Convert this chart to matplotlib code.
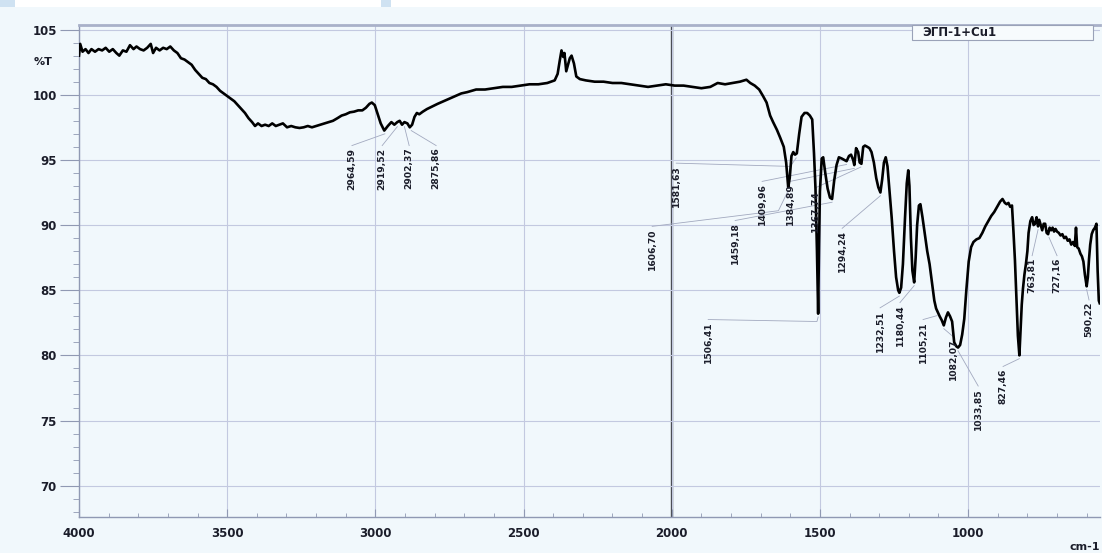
import matplotlib
matplotlib.use("Agg")
import matplotlib.pyplot as plt
from matplotlib import font_manager
from matplotlib.patches import Rectangle
from matplotlib.ticker import MultipleLocator

# ---------------- data ----------------
wavenumber = [4000, 3996, 3988, 3978, 3968, 3958, 3946, 3934, 3922, 3910, 3898, 3886, 3874, 3864,
              3852, 3840, 3828, 3816, 3806, 3794, 3782, 3770, 3758, 3750, 3740, 3728, 3716, 3704,
              3692, 3680, 3668, 3656, 3644, 3632, 3620, 3608, 3596, 3584, 3572, 3560, 3548, 3536,
              3524, 3512, 3500, 3488, 3476, 3464, 3452, 3440, 3428, 3416, 3406, 3396, 3384, 3372,
              3360, 3348, 3336, 3324, 3312, 3298, 3284, 3270, 3256, 3242, 3228, 3214, 3200, 3186,
              3172, 3158, 3143, 3128, 3114, 3100, 3086, 3072, 3058, 3044, 3032, 3020, 3012, 3002,
              2992, 2982, 2970, 2958, 2946, 2936, 2926, 2918, 2910, 2902, 2892, 2884, 2876, 2868,
              2860, 2852, 2840, 2826, 2808, 2790, 2770, 2750, 2730, 2710, 2690, 2660, 2630, 2600,
              2570, 2540, 2510, 2480, 2450, 2420, 2395, 2385, 2378, 2372, 2366, 2362, 2356, 2350,
              2344, 2338, 2330, 2322, 2310, 2290, 2260, 2230, 2200, 2170, 2140, 2110, 2080, 2050,
              2020, 1990, 1960, 1930, 1900, 1870, 1845, 1820, 1795, 1770, 1748, 1735, 1720, 1705,
              1692, 1680, 1668, 1658, 1645, 1634, 1622, 1614, 1607, 1602, 1596, 1590, 1584, 1578,
              1570, 1562, 1552, 1543, 1534, 1526, 1520, 1515, 1510, 1506, 1503, 1500, 1494, 1489,
              1482, 1474, 1466, 1459, 1452, 1444, 1436, 1426, 1418, 1410, 1402, 1395, 1388, 1384,
              1378, 1371, 1366, 1360, 1354, 1348, 1340, 1333, 1326, 1318, 1310, 1303, 1296, 1290,
              1284, 1278, 1272, 1265, 1258, 1250, 1243, 1236, 1232, 1226, 1220, 1213, 1207, 1202,
              1198, 1193, 1188, 1182, 1177, 1172, 1166, 1161, 1154, 1146, 1138, 1130, 1122, 1114,
              1108, 1102, 1096, 1089, 1082, 1075, 1068, 1061, 1054, 1047, 1040, 1034, 1027, 1020,
              1013, 1006, 998, 990, 982, 972, 962, 952, 942, 932, 922, 912, 902, 892, 884, 876,
              870, 864, 858, 852, 847, 842, 837, 832, 827, 823, 819, 815, 810, 805, 800, 796,
              790, 784, 779, 774, 769, 764, 760, 755, 750, 745, 740, 735, 730, 725, 720, 715,
              710, 705, 700, 694, 688, 682, 676, 670, 664, 658, 652, 646, 640, 636, 632, 627,
              621, 616, 611, 606, 600, 596, 592, 588, 583, 578, 572, 567, 563, 559, 556]

transmittance = [103.0, 103.9, 103.3, 103.5, 103.2, 103.5, 103.3, 103.5, 103.4, 103.6, 103.3, 103.5, 103.2, 103.0,
                 103.4, 103.3, 103.8, 103.5, 103.7, 103.5, 103.4, 103.6, 103.9, 103.2, 103.6, 103.4, 103.6, 103.5,
                 103.7, 103.4, 103.2, 102.8, 102.7, 102.5, 102.3, 101.9, 101.6, 101.3, 101.2, 100.9, 100.8, 100.6,
                 100.3, 100.1, 99.9, 99.7, 99.5, 99.2, 98.9, 98.6, 98.2, 97.9, 97.6, 97.8, 97.6, 97.7,
                 97.6, 97.8, 97.6, 97.7, 97.8, 97.5, 97.6, 97.5, 97.45, 97.5, 97.6, 97.5, 97.6, 97.7,
                 97.8, 97.9, 98.0, 98.2, 98.4, 98.5, 98.65, 98.7, 98.8, 98.8, 99.0, 99.3, 99.4, 99.2,
                 98.5, 97.8, 97.25, 97.6, 97.9, 97.7, 97.9, 98.0, 97.7, 97.9, 97.8, 97.5, 97.7, 98.3,
                 98.6, 98.5, 98.7, 98.9, 99.1, 99.3, 99.5, 99.7, 99.9, 100.1, 100.2, 100.4, 100.4, 100.5,
                 100.6, 100.6, 100.7, 100.8, 100.8, 100.9, 101.1, 101.6, 102.6, 103.4, 102.9, 103.2, 101.8, 102.3,
                 102.8, 103.0, 102.4, 101.4, 101.2, 101.1, 101.0, 101.0, 100.9, 100.9, 100.8, 100.7, 100.6, 100.7,
                 100.8, 100.7, 100.7, 100.6, 100.5, 100.6, 100.9, 100.8, 100.9, 101.0, 101.15, 100.9, 100.7, 100.4,
                 99.9, 99.4, 98.4, 97.9, 97.3, 96.7, 96.0, 94.8, 92.9, 93.6, 95.3, 95.6, 95.4, 95.5,
                 97.0, 98.3, 98.6, 98.6, 98.4, 98.1, 95.5, 92.8, 88.0, 83.2, 88.5, 92.6, 95.1, 95.2,
                 94.0, 92.8, 92.1, 92.0, 93.4, 94.6, 95.2, 95.1, 95.0, 94.9, 95.3, 95.4, 95.0, 94.6,
                 95.9, 95.6, 94.8, 94.7, 96.0, 96.1, 96.0, 95.9, 95.6, 94.8, 93.6, 92.9, 92.5, 93.5,
                 94.8, 95.2, 94.5, 92.5, 90.6, 88.0, 86.0, 85.0, 84.8, 85.2, 87.0, 90.5, 93.2, 94.2,
                 93.0, 89.0, 86.5, 85.6, 87.5, 90.0, 91.5, 91.6, 90.6, 89.3, 88.0, 87.0, 85.6, 84.2,
                 83.6, 83.3, 83.0, 82.7, 82.3, 82.9, 83.3, 83.0, 82.6, 81.0, 80.7, 80.6, 80.8, 81.6,
                 82.8, 85.0, 87.2, 88.3, 88.7, 88.9, 89.0, 89.4, 89.9, 90.3, 90.7, 91.0, 91.4, 91.8, 92.0, 91.7,
                 91.6, 91.7, 91.4, 91.5, 89.5, 87.3, 84.5, 81.5, 80.0, 82.0, 83.9, 85.1, 86.2, 87.0, 88.0, 89.4,
                 90.3, 90.6, 90.0, 90.1, 90.6, 89.9, 90.4, 90.0, 89.6, 90.1, 90.1, 89.4, 89.3, 89.8, 89.6, 89.8,
                 89.5, 89.7, 89.5, 89.4, 89.2, 89.3, 89.0, 89.1, 88.8, 88.9, 88.5, 88.7, 88.4, 89.8, 88.3, 88.2,
                 87.8, 87.6, 87.2, 86.2, 85.3, 86.0, 87.4, 88.5, 89.3, 89.6, 89.8, 90.1, 86.5, 84.2, 84.0]

peak_labels = ["2964,59", "2919,52", "2902,37", "2875,86", "1606,70", "1581,63", "1506,41",
               "1459,18", "1409,96", "1384,89", "1367,74", "1294,24", "1232,51", "1180,44",
               "1105,21", "1082,07", "1033,85", "827,46", "763,81", "727,16", "590,22"]
peak_wn = [2968, 2926, 2902, 2879, 1607, 1580, 1506, 1459, 1410, 1384, 1362, 1296, 1232, 1182,
           1105, 1082, 1034, 827, 764, 727, 600]
peak_t = [97.25, 97.8, 97.8, 97.5, 92.9, 95.4, 83.2, 92.0, 94.9, 94.6, 94.7, 92.5, 84.8, 85.6,
          83.3, 82.3, 80.6, 80.0, 89.9, 89.3, 85.3]

# layout of the rotated labels (x in cm-1, y = top of label in %T)
label_x = [3079, 2977, 2886, 2795, 2066, 1985, 1877, 1786, 1695, 1601, 1516, 1425, 1297, 1230,
           1152, 1051, 966, 882, 784, 700, 592]
label_top = [95.95, 95.95, 95.95, 95.95, 89.75, 94.6, 82.6, 90.2, 93.2, 93.2, 92.7, 89.6, 83.5, 83.9,
             82.6, 81.3, 77.5, 79.0, 87.5, 87.5, 84.1]
# optional elbow point of each leader line (None = straight)
leader_elbow = [None, None, None, None, (1640, 91.1), (1600, 94.5), (1510, 82.6),
                None, None, None, None, None, None, None,
                None, None, None, None, None, None, None]

x_ticks = [4000, 3500, 3000, 2500, 2000, 1500, 1000]
y_ticks = [70, 75, 80, 85, 90, 95, 100, 105]
legend_text = "ЭГП-1+Cu1"

# ---------------- style ----------------
names = {f.name for f in font_manager.fontManager.ttflist}
if "Liberation Sans Narrow" in names:
    narrow = ["Liberation Sans Narrow", "DejaVu Sans"]
    narrow_size = 8.0
elif "DejaVu Sans Condensed" in names:
    narrow = ["DejaVu Sans Condensed", "DejaVu Sans"]
    narrow_size = 7.0
else:
    narrow = ["DejaVu Sans"]
    narrow_size = 6.6

BG = "#f1f8fc"
GRID = "#c3c9e0"
TXT = "#1b1d2a"

W, H = 1102, 553
fig = plt.figure(figsize=(W / 100, H / 100), dpi=100, facecolor=BG)

# top strip (cropped window header)
fig.patches.append(Rectangle((0, 1 - 7 / H), 1, 7 / H, transform=fig.transFigure,
                             facecolor="white", edgecolor="none", zorder=0))
fig.patches.append(Rectangle((0, 1 - 7 / H), 15 / W, 7 / H, transform=fig.transFigure,
                             facecolor="#cfe2f2", edgecolor="none", zorder=0))
fig.patches.append(Rectangle((381 / W, 1 - 7 / H), 10 / W, 7 / H, transform=fig.transFigure,
                             facecolor="#cfe2f2", edgecolor="none", zorder=0))

ax = fig.add_axes([79 / W, (H - 517) / H, (1100 - 79) / W, (517 - 25) / H])
ax.set_facecolor(BG)
ax.set_xlim(4000, 555)
ax.set_ylim(67.6, 105.35)

ax.set_xticks(x_ticks)
ax.set_yticks(y_ticks)
ax.xaxis.set_minor_locator(MultipleLocator(100))
ax.yaxis.set_minor_locator(MultipleLocator(1))
ax.grid(True, which="major", color=GRID, lw=0.8, zorder=0)
ax.axvline(2000, color="#45474f", lw=1.7, zorder=1)

for s in ("left", "bottom"):
    ax.spines[s].set_color("#9099b3")
    ax.spines[s].set_linewidth(1.0)
ax.spines["top"].set_color("#a9b1c9")
ax.spines["top"].set_linewidth(2.0)
ax.spines["right"].set_visible(False)

ax.tick_params(axis="x", which="major", direction="in", length=6, color="#9099b3",
               labelsize=8.5, labelcolor=TXT, pad=7)
ax.tick_params(axis="x", which="minor", direction="in", length=3, color="#9099b3")
ax.tick_params(axis="y", which="major", direction="out", length=14, color="#9099b3",
               labelsize=8.5, labelcolor=TXT, pad=2)
ax.tick_params(axis="y", which="minor", direction="out", length=4, color="#9099b3")
for lab in ax.get_xticklabels() + ax.get_yticklabels():
    lab.set_fontweight("bold")

ax.plot(wavenumber, transmittance, color="black", lw=1.9, zorder=4,
        solid_joinstyle="round")

for txt, px, py, lx, ly, elb in zip(peak_labels, peak_wn, peak_t, label_x, label_top, leader_elbow):
    xs = [lx]
    ys = [ly + 0.15]
    if elb is not None:
        xs.append(elb[0])
        ys.append(elb[1])
    xs.append(px)
    ys.append(py - 0.25)
    ax.plot(xs, ys, color="#a2a9bf", lw=0.6, zorder=3)
    ax.text(lx, ly, txt, rotation=90, ha="center", va="top", fontsize=narrow_size,
            family=narrow, fontweight="bold", color=TXT, zorder=5)

fig.text(43 / W, 1 - 62 / H, "%T", ha="center", va="center", fontsize=8,
         fontweight="bold", color=TXT)
fig.text(1085 / W, 1 - 547 / H, "cm-1", ha="center", va="center", fontsize=8,
         fontweight="bold", color=TXT)

# legend box
fig.patches.append(Rectangle((912 / W, 1 - 40 / H), 181 / W, 15 / H, transform=fig.transFigure,
                             facecolor="#f7fbfd", edgecolor="#9aa2b8", lw=0.8, zorder=10))
fig.text(922 / W, 1 - 32.5 / H, legend_text, ha="left", va="center", fontsize=8.5,
         fontweight="bold", color=TXT, zorder=11)

fig.savefig("out.png", dpi=100, facecolor=BG)
